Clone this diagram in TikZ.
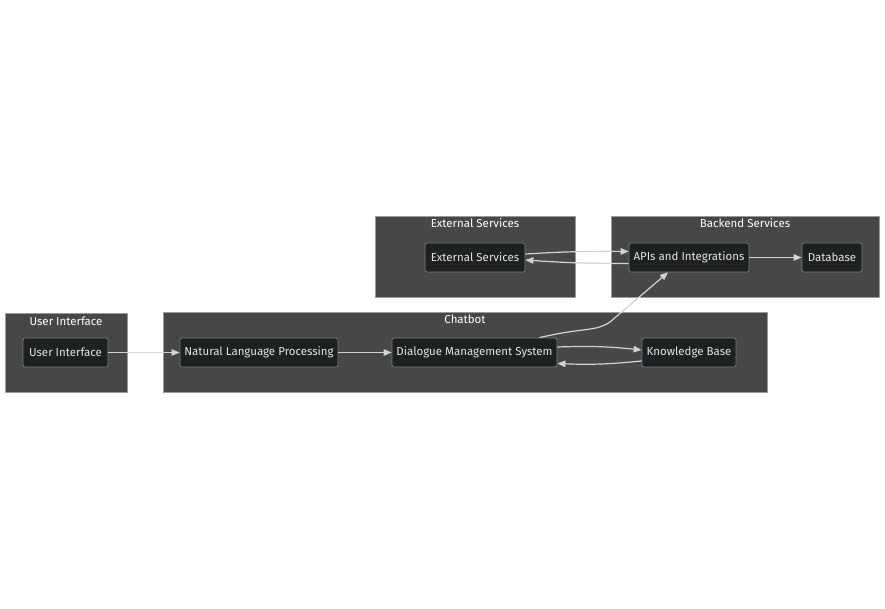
\documentclass[tikz,border=0pt]{standalone}
\usepackage{fontspec}
\setmainfont{Fira Sans}
\usetikzlibrary{arrows.meta}
\definecolor{grpfill}{HTML}{474747}
\definecolor{grpline}{HTML}{9A9A9A}
\definecolor{nfill}{HTML}{1F2020}
\definecolor{nline}{HTML}{6A7D92}
\definecolor{eline}{HTML}{D3D3D3}
\definecolor{ntext}{HTML}{E4E4E4}

\begin{document}
\begin{tikzpicture}
  [x=1pt,y=-1pt,
    grp/.style={draw=grpline,fill=grpfill,line width=0.5pt,inner sep=0pt},
    n/.style={draw=nline,fill=nfill,rounded corners=2pt,line width=0.8pt,
      minimum height=29pt,inner sep=0pt,text=ntext,
      font=\fontsize{11.5}{13}\selectfont},
    ttl/.style={text=white,font=\fontsize{11.5}{13}\selectfont},
    e/.style={draw=eline,line width=1.2pt,
      -{Triangle[length=8pt,width=6.5pt]}}]
  \useasboundingbox[fill=white] (0,0) rectangle (885,609);

  % groups
  \node[grp,minimum width=200pt,minimum height=81pt] (gext) at (475,256.5) {};
  \node[grp,minimum width=268pt,minimum height=81pt] (gback) at (745,256.5) {};
  \node[grp,minimum width=122pt,minimum height=79pt] (gui) at (66,352.5) {};
  \node[grp,minimum width=604pt,minimum height=80pt] (gchat) at (465,352) {};
  \node[ttl] (text) at (475,223) {External Services};
  \node[ttl] (tback) at (745,223) {Backend Services};
  \node[ttl] (tui) at (66,321) {User Interface};
  \node[ttl] (tchat) at (465,319) {Chatbot};

  % nodes
  \node[n,minimum width=100pt] (ext) at (475,257.5) {External Services};
  \node[n,minimum width=120pt] (api) at (689,257.5) {APIs and Integrations};
  \node[n,minimum width=60pt] (db) at (832,257.5) {Database};
  \node[n,minimum width=85pt] (ui) at (65.5,352.5) {User Interface};
  \node[n,minimum width=158pt] (nlp) at (259,352.5) {Natural Language Processing};
  \node[n,minimum width=165pt] (dms) at (474.5,352.5) {Dialogue Management System};
  \node[n,minimum width=94pt] (kb) at (689,352.5) {Knowledge Base};

  % edges
  \draw[e] (ui) -- (nlp);
  \draw[e] (nlp) -- (dms);
  \draw[e] ([yshift=5.5pt]dms.east) to[bend left=4] ([yshift=2.5pt]kb.west);
  \draw[e] ([yshift=-8.5pt]kb.west) to[bend left=4] ([yshift=-11pt]dms.east);
  \draw[e] ([xshift=65pt]dms.north) .. controls (585,327) and (595,332) ..
    (610,322) -- ([xshift=-21pt]api.south);
  \draw[e] ([yshift=3.5pt]ext.east) to[bend left=2] ([yshift=6pt]api.west);
  \draw[e] ([yshift=-6pt]api.west) to[bend left=2] ([yshift=-2.5pt]ext.east);
  \draw[e] (api) -- (db);
\end{tikzpicture}
\end{document}
